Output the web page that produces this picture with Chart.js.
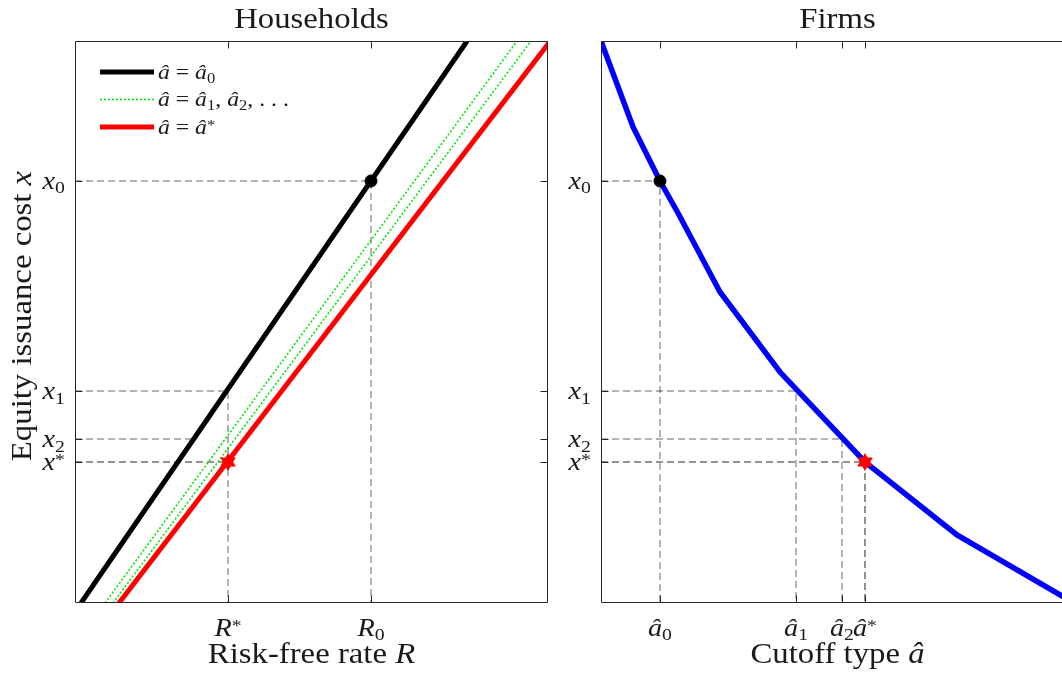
<!DOCTYPE html>
<html>
<head>
<meta charset="utf-8">
<script src="https://cdn.jsdelivr.net/npm/chart.js@4.4.1/dist/chart.umd.min.js"></script>
<style>
  html, body { margin: 0; padding: 0; overflow: hidden; background: #fff; width: 1062px; height: 679px; }
  #households { position: absolute; left: 0; top: 0; }
  #firms { position: absolute; left: 555px; top: 0; }
</style>
</head>
<body>
<canvas id="households" width="560" height="679"></canvas>
<canvas id="firms" width="540" height="679"></canvas>
<script>
// ---------- data ----------
// Households: equity issuance cost x (vertical) versus risk-free rate R.
// Each straight line is given by its R value at the bottom and top of the frame.
const householdCost = [0, 1];
const rAtHat0 = [0.0127, 0.829];
const rAtHat1 = [0.0634, 0.9345];
const rAtHat2 = [0.0803, 0.9641];
const rAtHatStar = [0.0930, 1.005];

// Firms: equity issuance cost x versus cutoff type â
const firmCutoff = [0, 0.0677, 0.1247, 0.1628, 0.2516, 0.3784, 0.5581, 0.7526, 1];
const firmCost   = [1, 0.847, 0.7509, 0.6940, 0.5534, 0.4110, 0.2509, 0.1210, 0];

// Tick values and labels
const costTicks = [0.7509, 0.3772, 0.2918, 0.2509];          // x0, x1, x2, x*
const costTickLabels = ['$x_0$', '$x_1$', '$x_2$', '$x^*$'];
const rateTicks = [0.3235, 0.6258];                           // R*, R0
const rateTickLabels = ['$R^*$', '$R_0$'];
const cutoffTicks = [0.1247, 0.4123, 0.5095, 0.5581];         // â0, â1, â2, â*
const cutoffTickLabels = ['$â_0$', '$â_1$', '$â_2$', '$â^*$'];

const legendLabels = ['$â = â_0$', '$â = â_1, â_2, . . .$', '$â = â^*$'];

// ---------- helpers ----------
const FONT = '"Liberation Serif", "Times New Roman", serif';
const STRETCH = 1.13;
const INK = '#1a1a1a';
const AXIS = '#262626';
const LABEL_SIZE = 29;

function pts(xs, ys) { return xs.map((v, i) => ({ x: v, y: ys[i] })); }
function interp(xs, ys, yv) {
  // R value on a straight household line at cost yv
  const t = (yv - ys[0]) / (ys[1] - ys[0]);
  return xs[0] + t * (xs[1] - xs[0]);
}

// Tiny rich-text parser: text inside $..$ is math (letters italic, _ and ^ make scripts)
function parseRich(str) {
  const runs = [];
  let math = false;
  for (let i = 0; i < str.length; i++) {
    const c = str[i];
    if (c === '$') { math = !math; continue; }
    let run;
    if (math && (c === '_' || c === '^')) {
      run = { t: str[i + 1], it: false, s: c === '_' ? 1 : -1 };
      i++;
    } else if (math && /[A-Za-zâ]/.test(c)) {
      run = { t: c, it: true, s: 0 };
    } else {
      run = { t: c, it: false, s: 0 };
    }
    const last = runs[runs.length - 1];
    if (last && last.it === run.it && last.s === run.s) last.t += run.t; else runs.push(run);
  }
  return runs;
}
function runFont(r, size) {
  return (r.it ? 'italic ' : '') + (r.s ? size * 0.7 : size) + 'px ' + FONT;
}
function richWidth(ctx, runs, size) {
  let w = 0;
  for (const r of runs) { ctx.font = runFont(r, size); w += ctx.measureText(r.t).width; }
  return w;
}
function drawRich(ctx, str, x, y, size, align, vcenter) {
  const runs = parseRich(str);
  const w = richWidth(ctx, runs, size) * STRETCH;
  let start = x;
  if (align === 'center') start = x - w / 2; else if (align === 'right') start = x - w;
  const base = vcenter ? y + size * 0.33 : y;
  ctx.save();
  ctx.translate(start, base);
  ctx.scale(STRETCH, 1);
  ctx.fillStyle = INK;
  ctx.textBaseline = 'alphabetic';
  ctx.textAlign = 'left';
  let cx = 0;
  for (const r of runs) {
    ctx.font = runFont(r, size);
    let dy = 0;
    if (r.s === 1) dy = size * 0.17;
    if (r.s === -1) dy = r.t === '*' ? -size * 0.2 : -size * 0.38;
    ctx.fillText(r.t, cx, dy);
    cx += ctx.measureText(r.t).width;
  }
  ctx.restore();
}

// Filled six-pointed star used as a point style
function hexagram(color, outer) {
  const c = document.createElement('canvas');
  const n = Math.ceil(outer * 2 + 2);
  c.width = n; c.height = n;
  const g = c.getContext('2d');
  const inner = outer / Math.sqrt(3);
  g.translate(n / 2, n / 2);
  g.beginPath();
  for (let k = 0; k < 12; k++) {
    const ang = -Math.PI / 2 + k * Math.PI / 6;
    const rad = k % 2 === 0 ? outer : inner;
    const px = rad * Math.cos(ang), py = rad * Math.sin(ang);
    if (k === 0) g.moveTo(px, py); else g.lineTo(px, py);
  }
  g.closePath();
  g.fillStyle = color;
  g.fill();
  return c;
}
const starMark = hexagram('#ff0000', 9);

// Frame, inward ticks, labels, titles and legend
const framePlugin = {
  id: 'frame',
  afterDraw(chart, args, o) {
    const { ctx, chartArea: a, scales } = chart;
    const xs = scales.x, ys = scales.y;
    const L = Math.round(a.left) + 0.5, R = Math.round(a.right) - 0.5;
    const T = Math.round(a.top) + 0.5, B = Math.round(a.bottom) - 0.5;
    ctx.save();
    ctx.strokeStyle = AXIS;
    ctx.lineWidth = 1;
    ctx.setLineDash([]);
    ctx.beginPath();
    ctx.moveTo(L, T); ctx.lineTo(L, B); ctx.lineTo(R, B);
    ctx.moveTo(L, T); ctx.lineTo(R, T); ctx.lineTo(R, B);
    const tl = 7;
    for (const v of o.xTicks) {
      const px = Math.round(xs.getPixelForValue(v)) + 0.5;
      ctx.moveTo(px, B); ctx.lineTo(px, B - tl);
      ctx.moveTo(px, T); ctx.lineTo(px, T + tl);
    }
    for (const v of o.yTicks) {
      const py = Math.round(ys.getPixelForValue(v)) + 0.5;
      ctx.moveTo(L, py); ctx.lineTo(L + tl, py);
      ctx.moveTo(R, py); ctx.lineTo(R - tl, py);
    }
    ctx.stroke();
    ctx.restore();

    // tick labels
    o.xTicks.forEach((v, i) => {
      drawRich(ctx, o.xTickLabels[i], xs.getPixelForValue(v), a.bottom + 33, 25, 'center', false);
    });
    o.yTicks.forEach((v, i) => {
      drawRich(ctx, o.yTickLabels[i], a.left - 10, ys.getPixelForValue(v), 25, 'right', true);
    });

    const cxm = (a.left + a.right) / 2;
    drawRich(ctx, o.title, cxm, 28, LABEL_SIZE, 'center', false);
    drawRich(ctx, o.xLabel, cxm, 663, LABEL_SIZE, 'center', false);
    if (o.yLabel) {
      ctx.save();
      ctx.translate(31, (a.top + a.bottom) / 2 - 6);
      ctx.rotate(-Math.PI / 2);
      drawRich(ctx, o.yLabel, 0, 0, LABEL_SIZE, 'center', false);
      ctx.restore();
    }

    if (o.legend) {
      const items = chart.data.datasets
        .filter(d => d.legendText)
        .sort((p, q) => legendLabels.indexOf(p.legendText) - legendLabels.indexOf(q.legendText));
      items.forEach((d, i) => {
        const yy = a.top + 31 + i * 27.5;
        ctx.save();
        ctx.strokeStyle = d.borderColor;
        ctx.lineWidth = d.borderWidth;
        ctx.setLineDash(d.borderDash || []);
        ctx.beginPath();
        ctx.moveTo(a.left + 25, yy); ctx.lineTo(a.left + 79, yy);
        ctx.stroke();
        ctx.restore();
        drawRich(ctx, d.legendText, a.left + 83, yy, 21, 'left', true);
      });
    }
  }
};

function line(data, color, width, dash, extra) {
  return Object.assign({
    data, showLine: true, borderColor: color, borderWidth: width,
    borderDash: dash || [], pointRadius: 0, pointHoverRadius: 0, fill: false
  }, extra || {});
}

const GUIDE = 'rgba(0,0,0,0.6)';
const GUIDE_DARK = 'rgba(0,0,0,0.85)';
const DASH = [7, 4];

function baseOptions(pad, panel) {
  return {
    responsive: false,
    animation: false,
    events: [],
    layout: { padding: pad },
    scales: {
      x: { type: 'linear', min: 0, max: 1, display: false },
      y: { type: 'linear', min: 0, max: 1, display: false }
    },
    plugins: { legend: { display: false }, tooltip: { enabled: false }, frame: panel }
  };
}

// ---------- Households ----------
const [x0, x1, x2, xStar] = costTicks;
const [rStar, r0] = rateTicks;
const rBlackAtX2 = interp(rAtHat0, householdCost, x2);

new Chart(document.getElementById('households'), {
  type: 'scatter',
  data: {
    datasets: [
      // markers (drawn on top)
      { data: [{ x: r0, y: x0 }], pointRadius: 6, pointBackgroundColor: '#000', pointBorderColor: '#000', showLine: false },
      { data: [{ x: rStar, y: xStar }], pointStyle: starMark, pointRadius: 9, showLine: false },
      // household lines
      line(pts(rAtHatStar, householdCost), '#ff0000', 5, [], { legendText: legendLabels[2] }),
      line(pts(rAtHat2, householdCost), '#00e600', 1.6, [2, 2]),
      line(pts(rAtHat1, householdCost), '#00e600', 1.6, [2, 2], { legendText: legendLabels[1] }),
      line(pts(rAtHat0, householdCost), '#000000', 5, [], { legendText: legendLabels[0] }),
      // dashed guides
      line([{ x: 0, y: xStar }, { x: rStar, y: xStar }], GUIDE_DARK, 1, DASH),
      line([{ x: 0, y: x2 }, { x: rBlackAtX2, y: x2 }], GUIDE, 1, DASH),
      line([{ x: 0, y: x1 }, { x: rStar, y: x1 }, { x: rStar, y: 0 }], GUIDE, 1, DASH),
      line([{ x: 0, y: x0 }, { x: r0, y: x0 }, { x: r0, y: 0 }], GUIDE, 1, DASH)
    ]
  },
  options: baseOptions({ left: 75, top: 41, right: 12, bottom: 76 }, {
    title: 'Households', xLabel: 'Risk-free rate $R$', yLabel: 'Equity issuance cost $x$',
    xTicks: rateTicks, xTickLabels: rateTickLabels, yTicks: costTicks, yTickLabels: costTickLabels,
    legend: true
  }),
  plugins: [framePlugin]
});

// ---------- Firms ----------
const [a0, a1, a2, aStar] = cutoffTicks;
new Chart(document.getElementById('firms'), {
  type: 'scatter',
  data: {
    datasets: [
      { data: [{ x: a0, y: x0 }], pointRadius: 6, pointBackgroundColor: '#000', pointBorderColor: '#000', showLine: false },
      { data: [{ x: aStar, y: xStar }], pointStyle: starMark, pointRadius: 9, showLine: false },
      line(pts(firmCutoff, firmCost), '#0000ff', 5.5, []),
      line([{ x: 0, y: xStar }, { x: aStar, y: xStar }, { x: aStar, y: 0 }], GUIDE_DARK, 1, DASH),
      line([{ x: 0, y: x2 }, { x: a2, y: x2 }, { x: a2, y: 0 }], GUIDE, 1, DASH),
      line([{ x: 0, y: x1 }, { x: a1, y: x1 }, { x: a1, y: 0 }], GUIDE, 1, DASH),
      line([{ x: 0, y: x0 }, { x: a0, y: x0 }, { x: a0, y: 0 }], GUIDE, 1, DASH)
    ]
  },
  options: baseOptions({ left: 46, top: 41, right: 21, bottom: 76 }, {
    title: 'Firms', xLabel: 'Cutoff type $â$', yLabel: null,
    xTicks: cutoffTicks, xTickLabels: cutoffTickLabels, yTicks: costTicks, yTickLabels: costTickLabels,
    legend: false
  }),
  plugins: [framePlugin]
});
</script>
</body>
</html>
